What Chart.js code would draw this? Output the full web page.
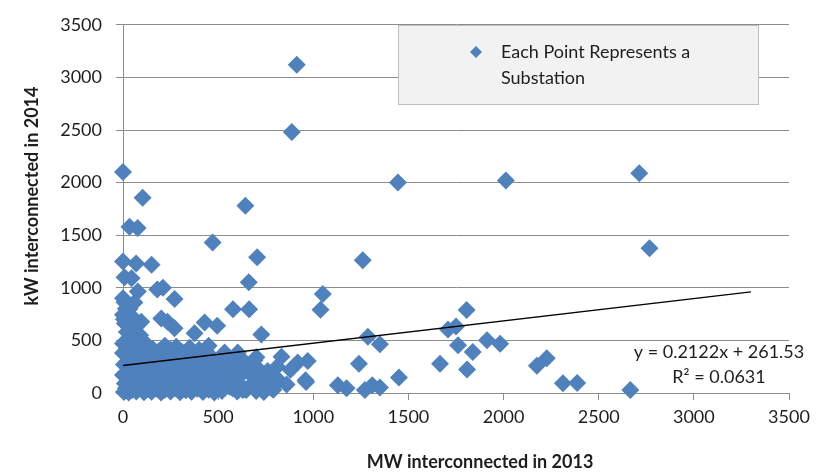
<!DOCTYPE html>
<html lang="en">
<head>
<meta charset="UTF-8">
<title>Substation interconnections 2013 vs 2014</title>
<script src="https://cdn.jsdelivr.net/npm/chart.js"></script>
<style>
  body { margin: 0; background: #fff; }
  #wrap { width: 825px; height: 474px; }
</style>
</head>
<body>
<div id="wrap"><canvas id="c" width="825" height="474"></canvas></div>
<script>
// MW interconnected in 2013 (x) and kW interconnected in 2014 (y), one entry per substation
var mw2013 = [
  // scattered points
  0, 913, 887, 1445, 2012, 2713, 2767, 103, 643, 34,
  77, 471, 705, 1260, 0, 69, 150, 8, 45, 661,
  78, 180, 210, 271, 1050, 1038, 8, 0, 34, 578,
  663, 201, 96, 234, 429, 495, 271, 376, 727, 1287,
  1350, 1240, 833, 918, 971, 962, 1129, 1175, 1271, 1310,
  1350, 1450, 1666, 1708, 1750, 1806, 1761, 1838, 1808, 1913,
  1982, 2175, 2227, 2312, 2387, 2666, 701, 603, 534, 683,
  787, 648, 959, 508, 561, 718, 754, 629, 780, 490,
  576, 524, 682, 666,
  // dense group near the origin
  5, 15, 30, 50, 70, 90, 110, 130, 150, 175, 200, 220, 250, 275, 300, 330, 360, 390, 420, 450, 480, 520, 560, 600, 640, 700, 740, 790,
  10, 35, 60, 85, 120, 140, 165, 195, 230, 260, 290, 320, 355, 385, 410, 440, 470, 505, 545, 590, 620, 680, 720, 760, 820, 860,
  0, 25, 55, 80, 105, 130, 160, 185, 210, 240, 270, 300, 335, 365, 400, 430, 460, 500, 540, 580, 630, 660, 700, 760, 810, 880,
  5, 30, 60, 95, 120, 150, 180, 205, 235, 265, 290, 320, 350, 380, 415, 445, 475, 520, 560, 620, 690,
  0, 20, 45, 75, 100, 125, 155, 190, 220, 250, 280, 310, 350, 400, 450, 0, 30, 60, 90, 20, 50, 10, 80, 5, 40, 15, 60, 0
];
var kw2014 = [
  2100, 3120, 2480, 2000, 2020, 2090, 1375, 1855, 1780, 1581,
  1569, 1430, 1290, 1262, 1250, 1230, 1219, 1100, 1090, 1052,
  965, 985, 1000, 894, 941, 792, 863, 745, 800, 795,
  795, 709, 678, 678, 671, 640, 616, 569, 557, 535,
  464, 278, 344, 291, 303, 105, 74, 46, 28, 74,
  53, 148, 278, 603, 631, 789, 455, 390, 223, 501,
  467, 260, 331, 93, 96, 28, 340, 384, 384, 190,
  139, 28, 121, 139, 105, 139, 93, 28, 46, 46,
  46, 260, 244, 198,
  10, 45, 5, 30, 15, 50, 8, 35, 12, 40, 5, 30, 15, 45, 8, 25, 12, 40, 10, 30, 5, 20, 60, 15, 35, 20, 10, 30,
  90, 120, 80, 110, 95, 130, 85, 120, 100, 140, 90, 120, 85, 115, 150, 95, 130, 100, 140, 110, 170, 90, 130, 160, 120, 80,
  170, 200, 180, 220, 190, 230, 200, 250, 180, 220, 260, 200, 240, 190, 230, 270, 210, 250, 200, 230, 270, 200, 250, 210, 250, 220,
  270, 300, 320, 290, 340, 310, 350, 290, 330, 300, 360, 310, 340, 290, 330, 380, 300, 340, 300, 330, 310,
  380, 420, 400, 440, 390, 460, 420, 400, 450, 410, 440, 390, 430, 410, 450, 470, 520, 500, 550, 580, 620, 660, 650, 700, 740, 800, 860, 900
];

var xTicks = [0, 500, 1000, 1500, 2000, 2500, 3000, 3500];
var yTicks = [0, 500, 1000, 1500, 2000, 2500, 3000, 3500];

// linear trendline as reported on the chart
var trendSlope = 0.2122;
var trendIntercept = 261.53;
var trendRange = [0, 3300];
var trendLabels = ['y = 0.2122x + 261.53', 'R\u00b2 = 0.0631'];

var seriesName = ['Each Point Represents a', 'Substation'];
var xTitle = 'MW interconnected in 2013';
var yTitle = 'kW interconnected in 2014';

var blue = '#4F81BD';
var gridGray = '#8C8C8C';
var textColor = '#1E1E1E';
var fontFamily = 'Lato, "Open Sans", sans-serif';

var points = mw2013.map(function (x, i) { return { x: x, y: kw2014[i] }; });
var trend = trendRange.map(function (x) { return { x: x, y: trendSlope * x + trendIntercept }; });

// legend box, trend equation and axis titles
var overlay = {
  id: 'overlay',
  afterDraw: function (chart) {
    var ctx = chart.ctx;
    ctx.save();

    // legend box
    ctx.fillStyle = '#F2F2F2';
    ctx.fillRect(398, 25, 361, 80);
    ctx.strokeStyle = '#BFBFBF';
    ctx.lineWidth = 1;
    ctx.strokeRect(398.5, 25.5, 360, 79);
    ctx.fillStyle = blue;
    ctx.beginPath();
    ctx.moveTo(470, 52); ctx.lineTo(476, 46); ctx.lineTo(482, 52); ctx.lineTo(476, 58);
    ctx.closePath();
    ctx.fill();

    ctx.fillStyle = textColor;
    ctx.font = '18px ' + fontFamily;
    ctx.textBaseline = 'middle';
    ctx.textAlign = 'left';
    ctx.fillText(seriesName[0], 501, 52);
    ctx.fillText(seriesName[1], 501, 78);

    // trend equation
    ctx.textAlign = 'center';
    ctx.fillText(trendLabels[0], 719, 352);
    ctx.fillText(trendLabels[1], 719, 377);

    // axis titles
    ctx.font = 'bold 18px ' + fontFamily;
    ctx.fillText(xTitle, 480, 462);
    ctx.translate(32, 196);
    ctx.rotate(-Math.PI / 2);
    ctx.fillText(yTitle, 0, 0);

    ctx.restore();
  }
};

function plainTick(v) { return String(v); }

new Chart(document.getElementById('c'), {
  type: 'scatter',
  data: {
    datasets: [
      {
        label: 'Trendline',
        type: 'line',
        data: trend,
        borderColor: '#000',
        borderWidth: 1.3,
        pointRadius: 0,
        fill: false,
        order: 0
      },
      {
        label: seriesName.join(' '),
        data: points,
        pointStyle: 'rectRot',
        pointRadius: 9,
        backgroundColor: blue,
        borderColor: blue,
        borderWidth: 0,
        clip: false,
        order: 1
      }
    ]
  },
  options: {
    responsive: false,
    devicePixelRatio: 1,
    animation: false,
    layout: { padding: { top: 16, right: 36, left: 0, bottom: 0 } },
    plugins: {
      legend: { display: false },
      tooltip: { enabled: false }
    },
    scales: {
      x: {
        type: 'linear',
        min: 0,
        max: 3500,
        afterBuildTicks: function (s) { s.ticks = xTicks.map(function (v) { return { value: v }; }); },
        afterFit: function (s) { s.height = 81; },
        grid: { drawOnChartArea: false, drawTicks: true, tickLength: 7, color: gridGray },
        border: { color: gridGray },
        ticks: { padding: 6, color: textColor, font: { family: fontFamily, size: 18 }, callback: plainTick }
      },
      y: {
        type: 'linear',
        min: 0,
        max: 3500,
        afterBuildTicks: function (s) { s.ticks = yTicks.map(function (v) { return { value: v }; }); },
        afterFit: function (s) { s.width = 123; },
        grid: { color: gridGray, tickLength: 7 },
        border: { color: gridGray },
        ticks: { padding: 14, color: textColor, font: { family: fontFamily, size: 18 }, callback: plainTick }
      }
    }
  },
  plugins: [overlay]
});
</script>
</body>
</html>
